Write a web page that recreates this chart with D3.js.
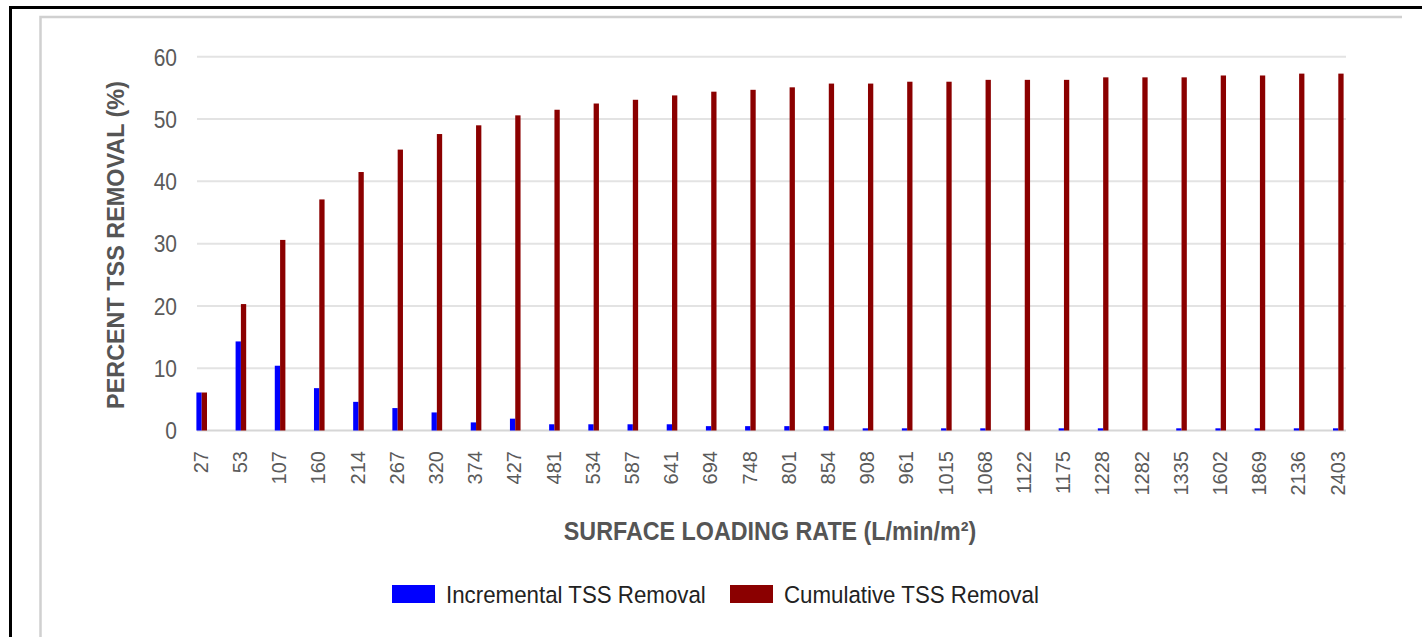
<!DOCTYPE html>
<html>
<head>
<meta charset="utf-8">
<script src="https://cdn.jsdelivr.net/npm/d3@7"></script>
<style>
  html, body { margin: 0; padding: 0; background: #fff; }
  svg { display: block; }
  text { font-family: "Liberation Sans", Arial, sans-serif; }
</style>
</head>
<body>
<svg id="chart" width="1422" height="637"></svg>
<script>
// Surface loading rate categories (L/min/m²)
const categories = ["27","53","107","160","214","267","320","374","427","481","534","587","641","694","748","801","854","908","961","1015","1068","1122","1175","1228","1282","1335","1602","1869","2136","2403"];
// Incremental TSS removal per loading-rate step (%)
const incremental = [6.1,14.3,10.4,6.8,4.6,3.6,2.9,1.3,1.9,1.0,1.0,1.0,1.0,0.7,0.7,0.7,0.7,0.35,0.35,0.35,0.35,0,0.35,0.35,0,0.35,0.35,0.35,0.35,0.35];
// Cumulative TSS removal (%)
const cumulative = [6.1,20.3,30.6,37.1,41.5,45.1,47.6,49.0,50.6,51.5,52.5,53.1,53.8,54.4,54.7,55.1,55.7,55.7,56.0,56.0,56.3,56.3,56.3,56.7,56.7,56.7,57.0,57.0,57.3,57.3];
const yTicks = [0,10,20,30,40,50,60];
const seriesNames = ["Incremental TSS Removal","Cumulative TSS Removal"];
const seriesColors = ["#0000ff","#8b0000"];

const svg = d3.select("#chart");

// outer frame and inner panel
svg.append("path").attr("d","M10.5,637 V7.5 H1422")
  .attr("fill","none").attr("stroke","#000").attr("stroke-width",3);
svg.append("path").attr("d","M40.5,637 V17 H1402")
  .attr("fill","none").attr("stroke","#d0d0d0").attr("stroke-width",2.5);

const plotLeft = 197, plotRight = 1346;
const y = d3.scaleLinear().domain([0,60]).range([430.5,56.8]);
const x = d3.scalePoint().domain(categories).range([201.7,1338.3]);
const barW = 5.3;

// gridlines
svg.append("g").selectAll("line").data(yTicks).join("line")
  .attr("x1",plotLeft).attr("x2",plotRight)
  .attr("y1",d=>y(d)).attr("y2",d=>y(d))
  .attr("stroke",d=>d===0?"#d6d6d6":"#e3e3e3")
  .attr("stroke-width",2);

// y tick labels
svg.append("g").selectAll("text").data(yTicks).join("text")
  .attr("transform",d=>`translate(177,${y(d)}) scale(1,1.15)`)
  .attr("dy","0.36em")
  .attr("text-anchor","end").attr("font-size",21).attr("fill","#5a5a5a")
  .text(d=>d);

// bars
const rows = categories.map((c,i)=>({c, inc: incremental[i], cum: cumulative[i]}));
const groups = svg.append("g").selectAll("g").data(rows).join("g");
groups.append("rect")
  .attr("x",d=>x(d.c)-barW).attr("width",barW)
  .attr("y",d=>y(d.inc)).attr("height",d=>y(0)-y(d.inc))
  .attr("fill",seriesColors[0]);
groups.append("rect")
  .attr("x",d=>x(d.c)).attr("width",barW)
  .attr("y",d=>y(d.cum)).attr("height",d=>y(0)-y(d.cum))
  .attr("fill",seriesColors[1]);

// x tick labels, rotated
svg.append("g").selectAll("text").data(categories).join("text")
  .attr("transform",d=>`translate(${x(d)-1},451) rotate(-90)`)
  .attr("dy","0.36em").attr("text-anchor","end")
  .attr("font-size",20).attr("fill","#5a5a5a")
  .text(d=>d);

// axis titles
svg.append("text")
  .attr("transform","translate(116,245) rotate(-90)")
  .attr("dy","0.36em").attr("text-anchor","middle")
  .attr("font-size",23.4).attr("font-weight","bold").attr("fill","#555")
  .text("PERCENT TSS REMOVAL (%)");
svg.append("text")
  .attr("transform","translate(770,531) scale(1,1.1)")
  .attr("dy","0.36em").attr("text-anchor","middle")
  .attr("font-size",23.3).attr("font-weight","bold").attr("fill","#555")
  .text("SURFACE LOADING RATE (L/min/m²)");

// legend
const legendX = [392, 730];
const legend = svg.append("g").selectAll("g").data(seriesNames).join("g")
  .attr("transform",(d,i)=>`translate(${legendX[i]},585)`);
legend.append("rect").attr("width",43).attr("height",18)
  .attr("fill",(d,i)=>seriesColors[i]);
legend.append("text").attr("transform","translate(54,9) scale(1,1.1)")
  .attr("dy","0.36em")
  .attr("font-size",22.3).attr("fill","#222").text(d=>d);
</script>
</body>
</html>
